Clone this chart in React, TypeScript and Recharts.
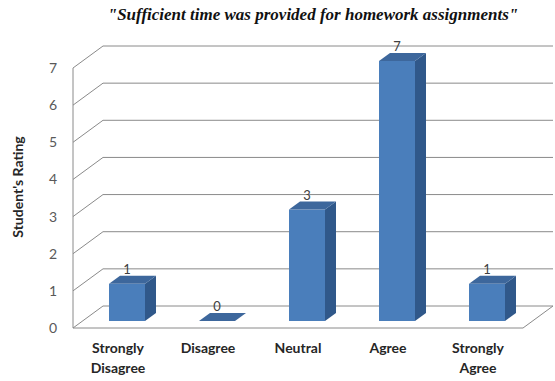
import { BarChart, Bar, XAxis, YAxis, CartesianGrid, LabelList } from 'recharts';

const categories = ['Strongly Disagree', 'Disagree', 'Neutral', 'Agree', 'Strongly Agree'];
const ratings = [1, 0, 3, 7, 1];
const yTicks = [0, 1, 2, 3, 4, 5, 6, 7];

const data = categories.map((name, i) => ({ name, rating: ratings[i] }));

const W = 555;
const H = 381;
const MARGIN = { top: 68, right: 32, bottom: 0, left: 0 };
const X_AXIS_H = 53;
const PLOT_BOTTOM = H - MARGIN.bottom - X_AXIS_H;

// fake 3D: back wall offset and bar offset/depth
const WALL_DX = 30;
const WALL_DY = -22;
const BAR_DX = 9;
const BAR_DY = -7;
const DEPTH_DX = 11;
const DEPTH_DY = -8;

const GRID = '#8a8a8a';
const FRONT = '#4a7ebb';
const TOP = '#3d679c';
const SIDE = '#30588a';
const FONT = 'Lato, "Open Sans", sans-serif';

function GridLine(props: any) {
  const { x1, y1, x2 } = props;
  const isFloor = Math.abs(y1 - PLOT_BOTTOM) < 1;
  return (
    <g key={props.key}>
      <path
        d={`M${x1},${y1} L${x1 + WALL_DX},${y1 + WALL_DY} L${x2 + WALL_DX},${y1 + WALL_DY}`}
        fill="none"
        stroke={GRID}
        strokeWidth={1}
      />
      {isFloor && (
        <line x1={x2} y1={y1} x2={x2 + WALL_DX} y2={y1 + WALL_DY} stroke={GRID} strokeWidth={1} />
      )}
    </g>
  );
}

function Bar3D(props: any) {
  const { x, y, width, height } = props;
  const fx = x + BAR_DX;
  const fy = y + BAR_DY;
  const h = Math.max(0, height);
  const top = `M${fx},${fy} L${fx + DEPTH_DX},${fy + DEPTH_DY} L${fx + width + DEPTH_DX},${fy + DEPTH_DY} L${fx + width},${fy} Z`;
  if (h < 0.5) {
    return <path d={top} fill={TOP} />;
  }
  const side = `M${fx + width},${fy} L${fx + width + DEPTH_DX},${fy + DEPTH_DY} L${fx + width + DEPTH_DX},${fy + h + DEPTH_DY} L${fx + width},${fy + h} Z`;
  return (
    <g>
      <rect x={fx} y={fy} width={width} height={h} fill={FRONT} />
      <path d={side} fill={SIDE} />
      <path d={top} fill={TOP} />
    </g>
  );
}

function ValueLabel(props: any) {
  const { x, y, width, value } = props;
  return (
    <text
      x={x + BAR_DX + width / 2}
      y={y + BAR_DY + DEPTH_DY - 2}
      textAnchor="middle"
      fontSize={13}
      fontFamily={FONT}
      fill="#404040"
    >
      {value}
    </text>
  );
}

function CategoryTick(props: any) {
  const { x, y, payload } = props;
  const lines = String(payload.value).split(' ');
  return (
    <text
      x={x}
      y={y + 17}
      textAnchor="middle"
      fontSize={14}
      fontWeight="bold"
      fontFamily={FONT}
      fill="#262626"
    >
      {lines.map((l, i) => (
        <tspan key={i} x={x} dy={i === 0 ? 0 : 20}>
          {l}
        </tspan>
      ))}
    </text>
  );
}

function YTitle(props: any) {
  const vb = props.viewBox;
  const cx = 17;
  const cy = vb.y + vb.height / 2 + WALL_DY / 2;
  return (
    <text
      x={cx}
      y={cy}
      transform={`rotate(-90 ${cx} ${cy})`}
      textAnchor="middle"
      dominantBaseline="central"
      fontSize={14}
      fontWeight="bold"
      fontFamily={FONT}
      fill="#262626"
    >
      Student's Rating
    </text>
  );
}

export default function App() {
  return (
    <div style={{ position: 'absolute', left: 0, top: 0, width: W, height: H, background: '#fff' }}>
      <div
        style={{
          position: 'absolute',
          left: 0,
          top: 5,
          width: 626,
          textAlign: 'center',
          fontFamily: '"Liberation Serif", "Times New Roman", serif',
          fontStyle: 'italic',
          fontWeight: 'bold',
          fontSize: 17,
          color: '#111',
          whiteSpace: 'nowrap',
        }}
      >
        "Sufficient time was provided for homework assignments"
      </div>
      <BarChart width={W} height={H} data={data} margin={MARGIN} barSize={36}>
        <CartesianGrid vertical={false} horizontal={GridLine} />
        <XAxis
          dataKey="name"
          height={X_AXIS_H}
          tickLine={false}
          axisLine={{ stroke: GRID }}
          tick={CategoryTick}
          interval={0}
        />
        <YAxis
          width={73}
          domain={[0, 7]}
          ticks={yTicks}
          interval={0}
          tickLine={false}
          axisLine={{ stroke: GRID }}
          tickSize={0}
          tickMargin={16}
          tick={{ fontSize: 14, fill: '#595959', fontFamily: FONT }}
          label={YTitle}
        />
        <Bar dataKey="rating" shape={Bar3D} isAnimationActive={false}>
          <LabelList dataKey="rating" content={ValueLabel} />
        </Bar>
      </BarChart>
    </div>
  );
}
